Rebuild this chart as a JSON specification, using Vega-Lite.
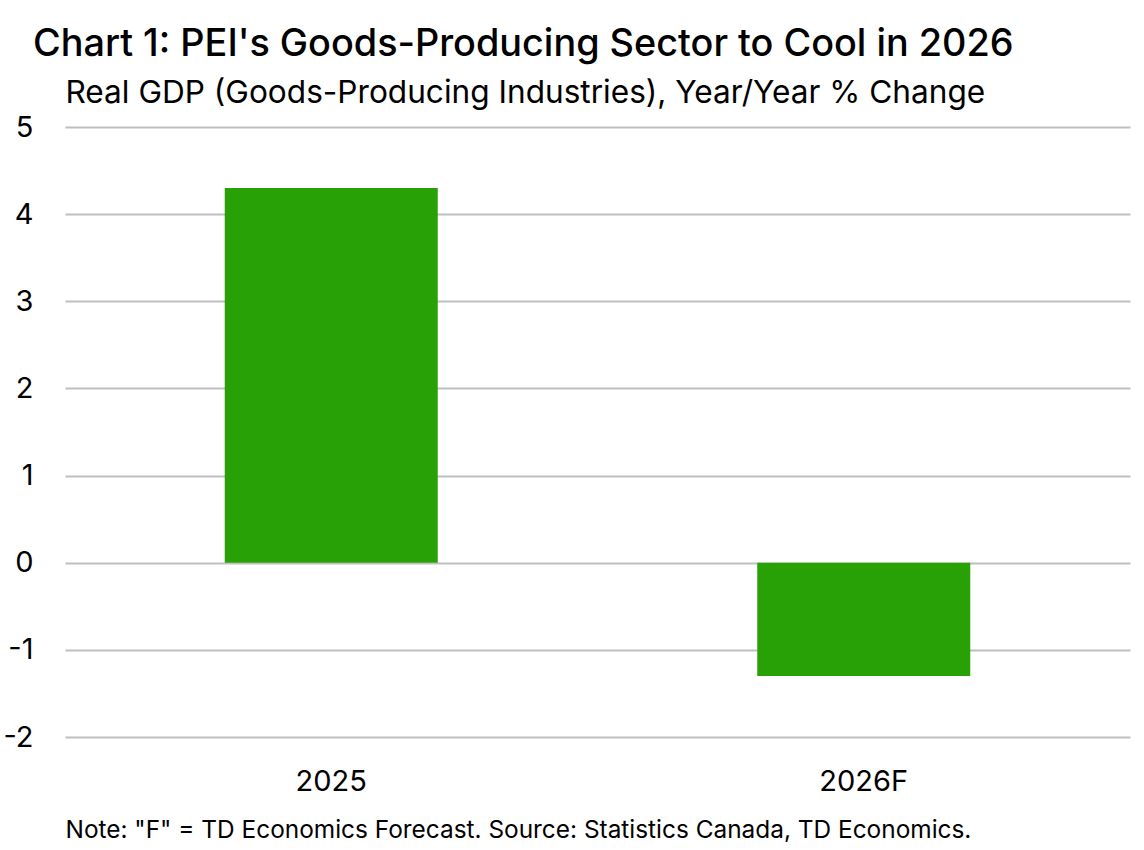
{
  "$schema": "https://vega.github.io/schema/vega-lite/v6.json",
  "width": 1065,
  "height": 610,
  "autosize": {"type": "none"},
  "padding": {"left": 65, "top": 127, "right": 14, "bottom": 113},
  "background": "white",
  "config": {
    "font": "Inter",
    "view": {"stroke": null}
  },
  "title": {
    "text": "Chart 1: PEI's Goods-Producing Sector to Cool in 2026",
    "anchor": "start",
    "frame": "group",
    "dx": -32,
    "fontSize": 37.8,
    "fontWeight": 500,
    "color": "#000000",
    "font": "Inter",
    "offset": 13
  },
  "data": {
    "values": [
      {"year": "2025", "value": 4.3},
      {"year": "2026F", "value": -1.3}
    ]
  },
  "mark": {"type": "bar", "color": "#27a106"},
  "encoding": {
    "x": {
      "field": "year",
      "type": "nominal",
      "sort": null,
      "scale": {"paddingInner": 0.6, "paddingOuter": 0.3},
      "axis": {
        "title": "Note: \"F\" = TD Economics Forecast. Source: Statistics Canada, TD Economics.",
        "titleAnchor": "start",
        "titleAlign": "left",
        "titleX": 0,
        "titleY": 100,
        "titleBaseline": "alphabetic",
        "titleFont": "Inter",
        "titleFontSize": 24.4,
        "titleFontWeight": "normal",
        "titleColor": "#000000",
        "labelAngle": 0,
        "labelFontSize": 29,
        "labelColor": "#000000",
        "labelPadding": 30,
        "ticks": false,
        "domain": false,
        "grid": false
      }
    },
    "y": {
      "field": "value",
      "type": "quantitative",
      "scale": {"domain": [-2, 5], "nice": false, "zero": false},
      "axis": {
        "title": "Real GDP (Goods-Producing Industries), Year/Year % Change",
        "titleAngle": 0,
        "titleAlign": "left",
        "titleAnchor": "start",
        "titleX": 0,
        "titleY": -25,
        "titleBaseline": "alphabetic",
        "titleFont": "Inter",
        "titleFontSize": 31.6,
        "titleFontWeight": "normal",
        "titleColor": "#000000",
        "values": [-2, -1, 0, 1, 2, 3, 4, 5],
        "labelExpr": "'' + datum.value",
        "labelFontSize": 29,
        "labelColor": "#000000",
        "labelPadding": 32,
        "ticks": false,
        "domain": false,
        "grid": true,
        "gridColor": "#bfbfbf",
        "gridWidth": 2
      }
    }
  }
}
